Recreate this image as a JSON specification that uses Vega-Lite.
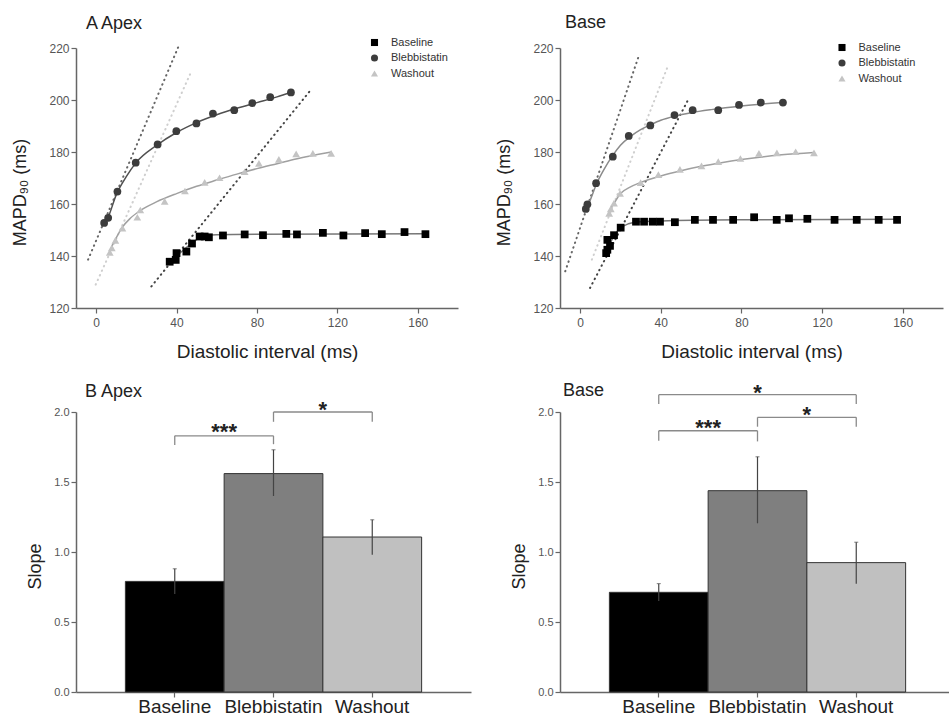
{
  "$schema": "https://vega.github.io/schema/vega-lite/v6.json",
  "padding": {"left": 11, "top": 14, "right": 0, "bottom": 0},
  "config": {
    "font": "Liberation Sans",
    "view": {"stroke": null},
    "axis": {"domainColor": "#666", "domainWidth": 1.5, "tickColor": "#666", "tickWidth": 1.2, "tickSize": 5, "labelColor": "#555", "labelFontSize": 12, "titleFontSize": 18, "titleFontWeight": "normal", "titleColor": "#222", "grid": false},
    "title": {"fontSize": 18, "fontWeight": "normal", "anchor": "start", "color": "#222", "frame": "group"},
    "legend": {"orient": "none", "title": null, "padding": 0, "labelFontSize": 11, "labelColor": "#333", "symbolSize": 50, "rowPadding": 3.5, "labelOffset": 11, "symbolStrokeWidth": 0}
  },
  "datasets": {
    "apexPts": [
      {"condition": "Baseline", "di": 36.6, "mapd": 137.8}, {"condition": "Baseline", "di": 39.6, "mapd": 138.5}, {"condition": "Baseline", "di": 40, "mapd": 141.1}, {"condition": "Baseline", "di": 44.9, "mapd": 141.7}, {"condition": "Baseline", "di": 47.7, "mapd": 144.8}, {"condition": "Baseline", "di": 51.5, "mapd": 147.5}, {"condition": "Baseline", "di": 54, "mapd": 147.5}, {"condition": "Baseline", "di": 56.1, "mapd": 147.2}, {"condition": "Baseline", "di": 63.1, "mapd": 147.9}, {"condition": "Baseline", "di": 73.9, "mapd": 148.3}, {"condition": "Baseline", "di": 83, "mapd": 148}, {"condition": "Baseline", "di": 94.6, "mapd": 148.5}, {"condition": "Baseline", "di": 99.9, "mapd": 148.3}, {"condition": "Baseline", "di": 112.8, "mapd": 148.9}, {"condition": "Baseline", "di": 123, "mapd": 147.9}, {"condition": "Baseline", "di": 133.8, "mapd": 148.8}, {"condition": "Baseline", "di": 142.1, "mapd": 148.4}, {"condition": "Baseline", "di": 153.4, "mapd": 149.2}, {"condition": "Baseline", "di": 163.8, "mapd": 148.4},
      {"condition": "Blebbistatin", "di": 4, "mapd": 152.7}, {"condition": "Blebbistatin", "di": 6, "mapd": 154.7}, {"condition": "Blebbistatin", "di": 10.6, "mapd": 164.8}, {"condition": "Blebbistatin", "di": 19.7, "mapd": 175.9}, {"condition": "Blebbistatin", "di": 30.6, "mapd": 182.9}, {"condition": "Blebbistatin", "di": 39.9, "mapd": 188}, {"condition": "Blebbistatin", "di": 49.9, "mapd": 191}, {"condition": "Blebbistatin", "di": 58.1, "mapd": 194.8}, {"condition": "Blebbistatin", "di": 68.7, "mapd": 196.1}, {"condition": "Blebbistatin", "di": 77.7, "mapd": 198.8}, {"condition": "Blebbistatin", "di": 86.6, "mapd": 201.1}, {"condition": "Blebbistatin", "di": 96.9, "mapd": 202.9},
      {"condition": "Washout", "di": 6.8, "mapd": 141.4}, {"condition": "Washout", "di": 7.8, "mapd": 143.1}, {"condition": "Washout", "di": 9.6, "mapd": 146}, {"condition": "Washout", "di": 13.1, "mapd": 150.7}, {"condition": "Washout", "di": 20.5, "mapd": 154.9}, {"condition": "Washout", "di": 22, "mapd": 157.7}, {"condition": "Washout", "di": 34.1, "mapd": 161}, {"condition": "Washout", "di": 44.2, "mapd": 165}, {"condition": "Washout", "di": 54, "mapd": 168.3}, {"condition": "Washout", "di": 61.4, "mapd": 170.1}, {"condition": "Washout", "di": 73.9, "mapd": 172.4}, {"condition": "Washout", "di": 81, "mapd": 175.6}, {"condition": "Washout", "di": 90.9, "mapd": 177.2}, {"condition": "Washout", "di": 99.5, "mapd": 179.3}, {"condition": "Washout", "di": 107.8, "mapd": 179.5}, {"condition": "Washout", "di": 116.9, "mapd": 179.5}
    ],
    "apexFit": [
      {"condition": "Baseline", "di": 36, "mapd": 137.5}, {"condition": "Baseline", "di": 40, "mapd": 140}, {"condition": "Baseline", "di": 45, "mapd": 143.3}, {"condition": "Baseline", "di": 50, "mapd": 146.3}, {"condition": "Baseline", "di": 55, "mapd": 147.8}, {"condition": "Baseline", "di": 60, "mapd": 148.2}, {"condition": "Baseline", "di": 80, "mapd": 148.4}, {"condition": "Baseline", "di": 165, "mapd": 148.6},
      {"condition": "Blebbistatin", "di": 4, "mapd": 152.5}, {"condition": "Blebbistatin", "di": 6, "mapd": 155}, {"condition": "Blebbistatin", "di": 10, "mapd": 163.5}, {"condition": "Blebbistatin", "di": 15, "mapd": 170.5}, {"condition": "Blebbistatin", "di": 20, "mapd": 176}, {"condition": "Blebbistatin", "di": 30, "mapd": 182.5}, {"condition": "Blebbistatin", "di": 40, "mapd": 187.5}, {"condition": "Blebbistatin", "di": 50, "mapd": 191.3}, {"condition": "Blebbistatin", "di": 60, "mapd": 194.3}, {"condition": "Blebbistatin", "di": 70, "mapd": 196.8}, {"condition": "Blebbistatin", "di": 80, "mapd": 199}, {"condition": "Blebbistatin", "di": 90, "mapd": 201.2}, {"condition": "Blebbistatin", "di": 97, "mapd": 203},
      {"condition": "Washout", "di": 7, "mapd": 142}, {"condition": "Washout", "di": 8, "mapd": 144}, {"condition": "Washout", "di": 10, "mapd": 147}, {"condition": "Washout", "di": 13, "mapd": 151}, {"condition": "Washout", "di": 17, "mapd": 154.5}, {"condition": "Washout", "di": 22, "mapd": 157.5}, {"condition": "Washout", "di": 30, "mapd": 160.8}, {"condition": "Washout", "di": 40, "mapd": 164}, {"condition": "Washout", "di": 50, "mapd": 166.8}, {"condition": "Washout", "di": 60, "mapd": 169.2}, {"condition": "Washout", "di": 70, "mapd": 171.5}, {"condition": "Washout", "di": 80, "mapd": 173.6}, {"condition": "Washout", "di": 90, "mapd": 175.5}, {"condition": "Washout", "di": 100, "mapd": 177.4}, {"condition": "Washout", "di": 110, "mapd": 179}, {"condition": "Washout", "di": 117, "mapd": 180}
    ],
    "apexSlope": [
      {"condition": "Baseline", "di": 27.5, "mapd": 128.3}, {"condition": "Baseline", "di": 106.7, "mapd": 203.8},
      {"condition": "Blebbistatin", "di": -4, "mapd": 138.6}, {"condition": "Blebbistatin", "di": 41.2, "mapd": 221},
      {"condition": "Washout", "di": -0.2, "mapd": 129}, {"condition": "Washout", "di": 46.9, "mapd": 210.2}
    ],
    "basePts": [
      {"condition": "Baseline", "di": 12.9, "mapd": 141.1}, {"condition": "Baseline", "di": 13.5, "mapd": 142.4}, {"condition": "Baseline", "di": 13.5, "mapd": 146.2}, {"condition": "Baseline", "di": 14.8, "mapd": 143.9}, {"condition": "Baseline", "di": 16.8, "mapd": 148}, {"condition": "Baseline", "di": 20.1, "mapd": 150.9}, {"condition": "Baseline", "di": 27.7, "mapd": 153.2}, {"condition": "Baseline", "di": 31.7, "mapd": 153.2}, {"condition": "Baseline", "di": 36, "mapd": 153.2}, {"condition": "Baseline", "di": 39.6, "mapd": 153.2}, {"condition": "Baseline", "di": 47, "mapd": 153}, {"condition": "Baseline", "di": 56.9, "mapd": 153.9}, {"condition": "Baseline", "di": 65.9, "mapd": 153.9}, {"condition": "Baseline", "di": 75.9, "mapd": 153.9}, {"condition": "Baseline", "di": 86.3, "mapd": 154.9}, {"condition": "Baseline", "di": 97.5, "mapd": 153.9}, {"condition": "Baseline", "di": 103.6, "mapd": 154.5}, {"condition": "Baseline", "di": 112.7, "mapd": 154.3}, {"condition": "Baseline", "di": 126.2, "mapd": 153.9}, {"condition": "Baseline", "di": 137.2, "mapd": 153.9}, {"condition": "Baseline", "di": 148.1, "mapd": 153.9}, {"condition": "Baseline", "di": 157.2, "mapd": 153.9},
      {"condition": "Blebbistatin", "di": 2.8, "mapd": 158.1}, {"condition": "Blebbistatin", "di": 3.6, "mapd": 159.9}, {"condition": "Blebbistatin", "di": 7.9, "mapd": 168}, {"condition": "Blebbistatin", "di": 16.2, "mapd": 178.2}, {"condition": "Blebbistatin", "di": 24.1, "mapd": 186.2}, {"condition": "Blebbistatin", "di": 34.8, "mapd": 190.2}, {"condition": "Blebbistatin", "di": 46.8, "mapd": 194.2}, {"condition": "Blebbistatin", "di": 55.8, "mapd": 196.1}, {"condition": "Blebbistatin", "di": 68.5, "mapd": 196.1}, {"condition": "Blebbistatin", "di": 78.8, "mapd": 198.1}, {"condition": "Blebbistatin", "di": 89.6, "mapd": 199}, {"condition": "Blebbistatin", "di": 100.6, "mapd": 199},
      {"condition": "Washout", "di": 14.4, "mapd": 156.4}, {"condition": "Washout", "di": 15.2, "mapd": 158.1}, {"condition": "Washout", "di": 16.8, "mapd": 160.3}, {"condition": "Washout", "di": 19.8, "mapd": 164.1}, {"condition": "Washout", "di": 30, "mapd": 168.2}, {"condition": "Washout", "di": 38.8, "mapd": 171.3}, {"condition": "Washout", "di": 49.5, "mapd": 173.3}, {"condition": "Washout", "di": 60.2, "mapd": 174.7}, {"condition": "Washout", "di": 68.5, "mapd": 176.3}, {"condition": "Washout", "di": 79.5, "mapd": 177.5}, {"condition": "Washout", "di": 88.7, "mapd": 179.5}, {"condition": "Washout", "di": 97.6, "mapd": 179.7}, {"condition": "Washout", "di": 106.9, "mapd": 180.1}, {"condition": "Washout", "di": 116, "mapd": 179.7}
    ],
    "baseFit": [
      {"condition": "Baseline", "di": 13, "mapd": 141.5}, {"condition": "Baseline", "di": 15, "mapd": 145}, {"condition": "Baseline", "di": 17, "mapd": 148}, {"condition": "Baseline", "di": 20, "mapd": 150.7}, {"condition": "Baseline", "di": 24, "mapd": 152.4}, {"condition": "Baseline", "di": 28, "mapd": 153.1}, {"condition": "Baseline", "di": 40, "mapd": 153.5}, {"condition": "Baseline", "di": 80, "mapd": 153.9}, {"condition": "Baseline", "di": 158, "mapd": 154.1},
      {"condition": "Blebbistatin", "di": 3, "mapd": 158}, {"condition": "Blebbistatin", "di": 5, "mapd": 161.5}, {"condition": "Blebbistatin", "di": 8, "mapd": 167.5}, {"condition": "Blebbistatin", "di": 12, "mapd": 173.5}, {"condition": "Blebbistatin", "di": 16, "mapd": 178.5}, {"condition": "Blebbistatin", "di": 20, "mapd": 182.6}, {"condition": "Blebbistatin", "di": 25, "mapd": 186}, {"condition": "Blebbistatin", "di": 30, "mapd": 188.6}, {"condition": "Blebbistatin", "di": 35, "mapd": 190.5}, {"condition": "Blebbistatin", "di": 40, "mapd": 192.2}, {"condition": "Blebbistatin", "di": 47, "mapd": 193.8}, {"condition": "Blebbistatin", "di": 55, "mapd": 195.1}, {"condition": "Blebbistatin", "di": 65, "mapd": 196.3}, {"condition": "Blebbistatin", "di": 80, "mapd": 197.7}, {"condition": "Blebbistatin", "di": 100, "mapd": 199},
      {"condition": "Washout", "di": 14, "mapd": 155.5}, {"condition": "Washout", "di": 15, "mapd": 158}, {"condition": "Washout", "di": 17, "mapd": 160.5}, {"condition": "Washout", "di": 20, "mapd": 164}, {"condition": "Washout", "di": 25, "mapd": 166.6}, {"condition": "Washout", "di": 30, "mapd": 168.3}, {"condition": "Washout", "di": 40, "mapd": 170.8}, {"condition": "Washout", "di": 50, "mapd": 172.8}, {"condition": "Washout", "di": 60, "mapd": 174.5}, {"condition": "Washout", "di": 70, "mapd": 175.9}, {"condition": "Washout", "di": 80, "mapd": 177.1}, {"condition": "Washout", "di": 90, "mapd": 178.1}, {"condition": "Washout", "di": 100, "mapd": 178.9}, {"condition": "Washout", "di": 116, "mapd": 179.8}
    ],
    "baseSlope": [
      {"condition": "Baseline", "di": 4.9, "mapd": 127.7}, {"condition": "Baseline", "di": 53.9, "mapd": 200.6},
      {"condition": "Blebbistatin", "di": -7.4, "mapd": 134.1}, {"condition": "Blebbistatin", "di": 29.2, "mapd": 217.2},
      {"condition": "Washout", "di": 5.8, "mapd": 138.6}, {"condition": "Washout", "di": 43.7, "mapd": 213.4}
    ],
    "apexBars": [
      {"condition": "Baseline", "slope": 0.79, "lo": 0.70, "hi": 0.88},
      {"condition": "Blebbistatin", "slope": 1.56, "lo": 1.40, "hi": 1.73},
      {"condition": "Washout", "slope": 1.107, "lo": 0.98, "hi": 1.23}
    ],
    "baseBars": [
      {"condition": "Baseline", "slope": 0.712, "lo": 0.65, "hi": 0.774},
      {"condition": "Blebbistatin", "slope": 1.438, "lo": 1.205, "hi": 1.68},
      {"condition": "Washout", "slope": 0.924, "lo": 0.774, "hi": 1.07}
    ],
    "apexBrackets": [
      {"from": "Baseline", "to": "Blebbistatin", "y": 1.83},
      {"from": "Blebbistatin", "to": "Washout", "y": 2.0}
    ],
    "apexLegs": [
      {"at": "Baseline", "top": 1.83, "bottom": 1.765},
      {"at": "Blebbistatin", "top": 1.83, "bottom": 1.77},
      {"at": "Blebbistatin", "top": 2.0, "bottom": 1.93},
      {"at": "Washout", "top": 2.0, "bottom": 1.93}
    ],
    "apexStars": [
      {"at": "Blebbistatin", "y": 1.9, "label": "***"},
      {"at": "Washout", "y": 2.06, "label": "*"}
    ],
    "baseBrackets": [
      {"from": "Baseline", "to": "Blebbistatin", "y": 1.866},
      {"from": "Blebbistatin", "to": "Washout", "y": 1.962},
      {"from": "Baseline", "to": "Washout", "y": 2.124}
    ],
    "baseLegs": [
      {"at": "Baseline", "top": 1.866, "bottom": 1.795},
      {"at": "Blebbistatin", "top": 1.866, "bottom": 1.79},
      {"at": "Blebbistatin", "top": 1.962, "bottom": 1.895},
      {"at": "Washout", "top": 1.962, "bottom": 1.895},
      {"at": "Baseline", "top": 2.124, "bottom": 2.057},
      {"at": "Washout", "top": 2.124, "bottom": 2.057}
    ],
    "baseStars": [
      {"at": "Blebbistatin", "y": 1.93, "label": "***"},
      {"at": "Washout", "y": 2.02, "label": "*"}
    ],
    "baseStarTop": [
      {"at": "Blebbistatin", "y": 2.18, "label": "*"}
    ]
  },
  "columns": 2,
  "bounds": "flush",
  "spacing": {"row": 104, "column": 89},
  "resolve": {
    "scale": {"x": "independent", "y": "independent", "fill": "independent", "shape": "independent", "stroke": "independent"},
    "legend": {"fill": "independent", "shape": "independent"}
  },
  "concat": [
    {
      "width": 382, "height": 260,
      "title": {"text": "A  Apex", "dx": 10, "offset": 4},
      "resolve": {"scale": {"stroke": "independent"}},
      "encoding": {
        "x": {"field": "di", "type": "quantitative", "scale": {"domain": [-10, 180], "nice": false, "zero": false}, "axis": {"title": "Diastolic interval (ms)", "titleFontSize": 19, "values": [0, 40, 80, 120, 160], "labelPadding": 4, "titlePadding": 14}},
        "y": {"field": "mapd", "type": "quantitative", "scale": {"domain": [120, 220], "nice": false, "zero": false}, "axis": {"title": "MAPD₉₀ (ms)", "values": [120, 140, 160, 180, 200, 220], "titlePadding": 19, "titleY": 144}}
      },
      "layer": [
        {"data": {"name": "apexSlope"}, "mark": {"type": "line", "strokeDash": [0.5, 4.5], "strokeWidth": 2, "strokeCap": "round"},
         "encoding": {"stroke": {"field": "condition", "type": "nominal", "scale": {"domain": ["Baseline", "Blebbistatin", "Washout"], "range": ["#444", "#666", "#cfcfcf"]}, "legend": null}}},
        {"data": {"name": "apexFit"}, "mark": {"type": "line", "interpolate": "monotone", "strokeWidth": 1.5},
         "encoding": {"stroke": {"field": "condition", "type": "nominal", "scale": {"domain": ["Baseline", "Blebbistatin", "Washout"], "range": ["#777", "#505050", "#a0a0a0"]}, "legend": null}}},
        {"data": {"name": "apexPts"}, "mark": {"type": "point", "filled": true, "opacity": 1, "size": 60},
         "encoding": {
           "fill": {"field": "condition", "type": "nominal", "scale": {"domain": ["Baseline", "Blebbistatin", "Washout"], "range": ["#000000", "#3c3c3c", "#c4c4c4"]}, "legend": {"legendX": 293, "legendY": -11}},
           "shape": {"field": "condition", "type": "nominal", "scale": {"domain": ["Baseline", "Blebbistatin", "Washout"], "range": ["square", "circle", "triangle-up"]}, "legend": {"legendX": 293, "legendY": -11}}
         }}
      ]
    },
    {
      "width": 383, "height": 260,
      "title": {"text": "Base", "dx": 5, "offset": 10},
      "resolve": {"scale": {"stroke": "independent"}},
      "encoding": {
        "x": {"field": "di", "type": "quantitative", "scale": {"domain": [-10, 180], "nice": false, "zero": false}, "axis": {"title": "Diastolic interval (ms)", "titleFontSize": 19, "values": [0, 40, 80, 120, 160], "labelPadding": 4, "titlePadding": 14}},
        "y": {"field": "mapd", "type": "quantitative", "scale": {"domain": [120, 220], "nice": false, "zero": false}, "axis": {"title": "MAPD₉₀ (ms)", "values": [120, 140, 160, 180, 200, 220], "titlePadding": 19, "titleY": 144}}
      },
      "layer": [
        {"data": {"name": "baseSlope"}, "mark": {"type": "line", "strokeDash": [0.5, 4.5], "strokeWidth": 2, "strokeCap": "round"},
         "encoding": {"stroke": {"field": "condition", "type": "nominal", "scale": {"domain": ["Baseline", "Blebbistatin", "Washout"], "range": ["#444", "#666", "#cfcfcf"]}, "legend": null}}},
        {"data": {"name": "baseFit"}, "mark": {"type": "line", "interpolate": "monotone", "strokeWidth": 1.5},
         "encoding": {"stroke": {"field": "condition", "type": "nominal", "scale": {"domain": ["Baseline", "Blebbistatin", "Washout"], "range": ["#777", "#8a8a8a", "#a0a0a0"]}, "legend": null}}},
        {"data": {"name": "basePts"}, "mark": {"type": "point", "filled": true, "opacity": 1, "size": 60},
         "encoding": {
           "fill": {"field": "condition", "type": "nominal", "scale": {"domain": ["Baseline", "Blebbistatin", "Washout"], "range": ["#000000", "#3c3c3c", "#c4c4c4"]}, "legend": {"legendX": 276.5, "legendY": -6}},
           "shape": {"field": "condition", "type": "nominal", "scale": {"domain": ["Baseline", "Blebbistatin", "Washout"], "range": ["square", "circle", "triangle-up"]}, "legend": {"legendX": 276.5, "legendY": -6}}
         }}
      ]
    },
    {
      "width": 395, "height": 280,
      "title": {"text": "B  Apex", "dx": 9, "offset": -2},
      "encoding": {
        "x": {"field": "condition", "type": "nominal", "sort": ["Baseline", "Blebbistatin", "Washout"], "scale": {"domain": ["Baseline", "Blebbistatin", "Washout"], "paddingInner": 0, "paddingOuter": 0.5}, "axis": {"title": null, "labelAngle": 0, "labelFontSize": 19, "labelColor": "#222", "labelPadding": 0}}
      },
      "layer": [
        {"data": {"name": "apexBars"}, "mark": {"type": "bar", "stroke": "#333", "strokeWidth": 1},
         "encoding": {
           "y": {"field": "slope", "type": "quantitative", "scale": {"domain": [0, 2], "nice": false}, "axis": {"title": "Slope", "values": [0, 0.5, 1, 1.5, 2], "format": ".1f", "labelFontSize": 11, "titlePadding": 9, "titleY": 154}},
           "fill": {"field": "condition", "type": "nominal", "scale": {"domain": ["Baseline", "Blebbistatin", "Washout"], "range": ["#000000", "#7f7f7f", "#c0c0c0"]}, "legend": null}
         }},
        {"data": {"name": "apexBars"}, "mark": {"type": "rule", "color": "#444", "strokeWidth": 1.2},
         "encoding": {"x": {"field": "condition", "type": "nominal", "bandPosition": 0.5}, "y": {"field": "lo", "type": "quantitative"}, "y2": {"field": "hi"}}},
        {"data": {"name": "apexBars"}, "mark": {"type": "tick", "color": "#444", "size": 4, "thickness": 1},
         "encoding": {"x": {"field": "condition", "type": "nominal", "bandPosition": 0.5}, "y": {"field": "hi", "type": "quantitative"}}},
        {"data": {"name": "apexBrackets"}, "mark": {"type": "rule", "color": "#8a8a8a", "strokeWidth": 1.3},
         "encoding": {"x": {"field": "from", "type": "nominal", "bandPosition": 0.5}, "x2": {"field": "to", "bandPosition": 0.5}, "y": {"field": "y", "type": "quantitative"}}},
        {"data": {"name": "apexLegs"}, "mark": {"type": "rule", "color": "#8a8a8a", "strokeWidth": 1.3},
         "encoding": {"x": {"field": "at", "type": "nominal", "bandPosition": 0.5}, "y": {"field": "top", "type": "quantitative"}, "y2": {"field": "bottom"}}},
        {"data": {"name": "apexStars"}, "mark": {"type": "text", "fontSize": 22, "fontWeight": "bold", "color": "#222", "baseline": "middle", "dy": 6},
         "encoding": {"x": {"field": "at", "type": "nominal", "bandPosition": 0}, "y": {"field": "y", "type": "quantitative"}, "text": {"field": "label"}}}
      ]
    },
    {
      "width": 395, "height": 280,
      "title": {"text": "Base", "dx": 3, "offset": -18},
      "encoding": {
        "x": {"field": "condition", "type": "nominal", "sort": ["Baseline", "Blebbistatin", "Washout"], "scale": {"domain": ["Baseline", "Blebbistatin", "Washout"], "paddingInner": 0, "paddingOuter": 0.5}, "axis": {"title": null, "labelAngle": 0, "labelFontSize": 19, "labelColor": "#222", "labelPadding": 0}}
      },
      "layer": [
        {"data": {"name": "baseBars"}, "mark": {"type": "bar", "stroke": "#333", "strokeWidth": 1},
         "encoding": {
           "y": {"field": "slope", "type": "quantitative", "scale": {"domain": [0, 2], "nice": false}, "axis": {"title": "Slope", "values": [0, 0.5, 1, 1.5, 2], "format": ".1f", "labelFontSize": 11, "titlePadding": 9, "titleY": 154}},
           "fill": {"field": "condition", "type": "nominal", "scale": {"domain": ["Baseline", "Blebbistatin", "Washout"], "range": ["#000000", "#7f7f7f", "#c0c0c0"]}, "legend": null}
         }},
        {"data": {"name": "baseBars"}, "mark": {"type": "rule", "color": "#444", "strokeWidth": 1.2},
         "encoding": {"x": {"field": "condition", "type": "nominal", "bandPosition": 0.5}, "y": {"field": "lo", "type": "quantitative"}, "y2": {"field": "hi"}}},
        {"data": {"name": "baseBars"}, "mark": {"type": "tick", "color": "#444", "size": 4, "thickness": 1},
         "encoding": {"x": {"field": "condition", "type": "nominal", "bandPosition": 0.5}, "y": {"field": "hi", "type": "quantitative"}}},
        {"data": {"name": "baseBrackets"}, "mark": {"type": "rule", "color": "#8a8a8a", "strokeWidth": 1.3},
         "encoding": {"x": {"field": "from", "type": "nominal", "bandPosition": 0.5}, "x2": {"field": "to", "bandPosition": 0.5}, "y": {"field": "y", "type": "quantitative"}}},
        {"data": {"name": "baseLegs"}, "mark": {"type": "rule", "color": "#8a8a8a", "strokeWidth": 1.3},
         "encoding": {"x": {"field": "at", "type": "nominal", "bandPosition": 0.5}, "y": {"field": "top", "type": "quantitative"}, "y2": {"field": "bottom"}}},
        {"data": {"name": "baseStars"}, "mark": {"type": "text", "fontSize": 22, "fontWeight": "bold", "color": "#222", "baseline": "middle", "dy": 6},
         "encoding": {"x": {"field": "at", "type": "nominal", "bandPosition": 0}, "y": {"field": "y", "type": "quantitative"}, "text": {"field": "label"}}},
        {"data": {"name": "baseStarTop"}, "mark": {"type": "text", "fontSize": 22, "fontWeight": "bold", "color": "#222", "baseline": "middle", "dy": 6},
         "encoding": {"x": {"field": "at", "type": "nominal", "bandPosition": 0.5}, "y": {"field": "y", "type": "quantitative"}, "text": {"field": "label"}}}
      ]
    }
  ]
}
